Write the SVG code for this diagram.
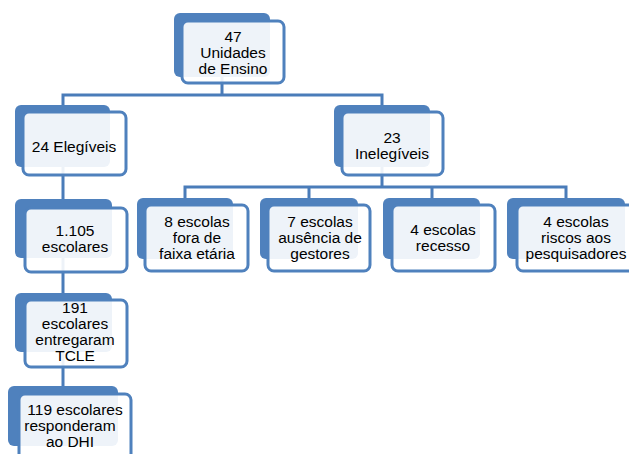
<svg xmlns="http://www.w3.org/2000/svg" width="629" height="454" viewBox="0 0 629 454">
<style>
.back{fill:#4f81bd}
.front{fill:#ffffff;fill-opacity:0.9;stroke:#4f81bd;stroke-width:3}
.conn{fill:none;stroke:#4a7cb9;stroke-width:3}
text{font-family:"Liberation Sans",Arial,sans-serif;font-size:15.5px;fill:#000;text-anchor:middle}
</style>
<rect width="629" height="454" fill="#ffffff"/>
<g id="connectors">
<path class="conn" d="M222,77 V95 M63,105 V95 H382 V105"/>
<path class="conn" d="M382,167 V187 M185,198 V187 H566 V198 M309,187 V198 M432,187 V198"/>
<path class="conn" d="M63,167 V199 M63,258 V293 M63,352 V386"/>
</g>
<g id="n47">
<rect class="back" x="174" y="13" width="96" height="64" rx="6"/>
<rect class="front" x="182" y="21" width="102" height="62" rx="6"/>
<text x="233" y="42">47</text>
<text x="233" y="58">Unidades</text>
<text x="233" y="74">de Ensino</text>
</g>
<g id="n24">
<rect class="back" x="15" y="105" width="95" height="62" rx="6"/>
<rect class="front" x="23" y="112" width="103" height="63" rx="6"/>
<text x="74" y="152">24 Elegíveis</text>
</g>
<g id="n23">
<rect class="back" x="334" y="105" width="96" height="62" rx="6"/>
<rect class="front" x="342" y="112" width="101" height="63" rx="6"/>
<text x="392" y="143">23</text>
<text x="392" y="159">Inelegíveis</text>
</g>
<g id="n8">
<rect class="back" x="137" y="198" width="96" height="61" rx="6"/>
<rect class="front" x="145" y="205" width="103" height="66" rx="6"/>
<text x="197" y="227">8 escolas</text>
<text x="197" y="243">fora de</text>
<text x="197" y="259">faixa etária</text>
</g>
<g id="n7">
<rect class="back" x="260" y="198" width="98" height="61" rx="6"/>
<rect class="front" x="268" y="205" width="102" height="66" rx="6"/>
<text x="320" y="227">7 escolas</text>
<text x="320" y="243">ausência de</text>
<text x="320" y="259">gestores</text>
</g>
<g id="n4a">
<rect class="back" x="383" y="198" width="97" height="61" rx="6"/>
<rect class="front" x="392" y="205" width="103" height="66" rx="6"/>
<text x="443" y="235">4 escolas</text>
<text x="443" y="251">recesso</text>
</g>
<g id="n4b">
<rect class="back" x="507" y="198" width="118" height="61" rx="6"/>
<rect class="front" x="517" y="205" width="118" height="66" rx="6"/>
<text x="576" y="227">4 escolas</text>
<text x="576" y="243">riscos aos</text>
<text x="576" y="259">pesquisadores</text>
</g>
<g id="n1105">
<rect class="back" x="15" y="199" width="97" height="59" rx="6"/>
<rect class="front" x="25" y="208" width="102" height="64" rx="6"/>
<text x="75" y="236">1.105</text>
<text x="75" y="252">escolares</text>
</g>
<g id="n191">
<rect class="back" x="15" y="293" width="97" height="59" rx="6"/>
<rect class="front" x="25" y="300" width="102" height="67" rx="6"/>
<text x="75" y="313">191</text>
<text x="75" y="329">escolares</text>
<text x="75" y="345">entregaram</text>
<text x="75" y="361">TCLE</text>
</g>
<g id="n119">
<rect class="back" x="8" y="386" width="110" height="60" rx="6"/>
<rect class="front" x="19" y="394" width="112" height="70" rx="6"/>
<text x="75" y="415">119 escolares</text>
<text x="70" y="431">responderam</text>
<text x="70" y="447">ao DHI</text>
</g>
</svg>
